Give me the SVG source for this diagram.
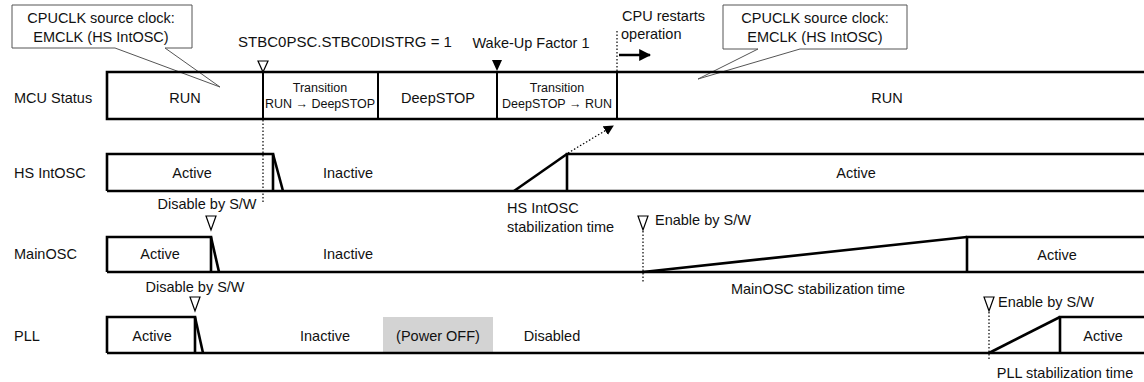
<svg xmlns="http://www.w3.org/2000/svg" width="1144" height="382" viewBox="0 0 1144 382">
<style>
text{font-family:"Liberation Sans",Arial,sans-serif;font-size:14.5px;fill:#111}
.s{font-size:12.5px}
.m{text-anchor:middle}
.w{fill:none;stroke:#000;stroke-width:2.6}
.t{fill:none;stroke:#000;stroke-width:2}
.d{fill:none;stroke:#000;stroke-width:1.2;stroke-dasharray:1.5,2}
.c{fill:#fff;stroke:#555;stroke-width:1}
.ho{fill:#fff;stroke:#000;stroke-width:1.2}
</style>
<defs>
<marker id="ah" viewBox="0 0 10 10" refX="9" refY="5" markerWidth="10" markerHeight="10" markerUnits="userSpaceOnUse" orient="auto"><path d="M0,0 L10,5 L0,10 z" fill="#000"/></marker>
<marker id="ah2" viewBox="0 0 10 10" refX="9" refY="5" markerWidth="12" markerHeight="12" markerUnits="userSpaceOnUse" orient="auto"><path d="M0,0 L10,5 L0,10 z" fill="#000"/></marker>
</defs>
<rect width="1144" height="382" fill="#fff"/>

<g id="labels">
<text x="14" y="103">MCU Status</text>
<text x="14" y="178">HS IntOSC</text>
<text x="14" y="259">MainOSC</text>
<text x="14" y="341">PLL</text>
</g>

<g id="callout-left">
<path class="c" d="M12,5 H192 V48 H165 L220,87 L115,48 H12 Z"/>
<text class="m" x="101" y="23">CPUCLK source clock:</text>
<text class="m" x="101" y="42">EMCLK (HS IntOSC)</text>
</g>

<g id="callout-right">
<path class="c" d="M723,5 H907 V49 H800 L698,79 L758,49 H723 Z"/>
<text class="m" x="815" y="23">CPUCLK source clock:</text>
<text class="m" x="815" y="42">EMCLK (HS IntOSC)</text>
</g>

<g id="mcu-status">
<path class="w" d="M1146,72 H107 V119 H1146"/>
<line class="t" x1="263" y1="72" x2="263" y2="119"/>
<line class="t" x1="378" y1="72" x2="378" y2="119"/>
<line class="t" x1="497" y1="72" x2="497" y2="119"/>
<line class="t" x1="617" y1="72" x2="617" y2="119"/>
<text class="m" x="185" y="103">RUN</text>
<text class="m s" x="320" y="92">Transition</text>
<text class="m s" x="320" y="108">RUN → DeepSTOP</text>
<text class="m" x="438" y="103">DeepSTOP</text>
<text class="m s" x="557" y="92">Transition</text>
<text class="m s" x="557" y="108">DeepSTOP → RUN</text>
<text class="m" x="887" y="103">RUN</text>
</g>

<g id="events">
<text class="m" x="345" y="47" style="font-size:15px">STBC0PSC.STBC0DISTRG = 1</text>
<polygon class="ho" points="258,61 268,61 263,72"/>
<text class="m" x="531" y="48">Wake-Up Factor 1</text>
<polygon points="492,60 502,60 497,71" fill="#000"/>
<text x="622" y="21">CPU restarts</text>
<text x="621" y="39">operation</text>
</g>

<g id="hs-intosc">
<path class="w" d="M107,191 V154 H273 V191"/>
<line class="w" x1="273" y1="154" x2="283" y2="191"/>
<line class="w" x1="107" y1="191" x2="1146" y2="191"/>
<line class="w" x1="514" y1="191" x2="567" y2="154"/>
<path class="w" d="M567,191 V154 H1146"/>
<text class="m" x="192" y="178">Active</text>
<text class="m" x="348" y="178">Inactive</text>
<text class="m" x="856" y="178">Active</text>
<text x="507" y="213">HS IntOSC</text>
<text x="507" y="232">stabilization time</text>
<text class="m" x="207" y="209">Disable by S/W</text>
</g>

<g id="mainosc">
<polygon class="ho" points="206,216 216,216 211,230"/>
<path class="w" d="M107,272 V237 H211 V272"/>
<line class="w" x1="211" y1="237" x2="219" y2="272"/>
<line class="w" x1="107" y1="272" x2="1146" y2="272"/>
<line class="w" x1="643" y1="272" x2="967" y2="237"/>
<path class="w" d="M967,272 V237 H1146"/>
<text class="m" x="160" y="259">Active</text>
<text class="m" x="348" y="259">Inactive</text>
<text class="m" x="1057" y="260">Active</text>
<polygon class="ho" points="638,216 648,216 643,230"/>
<text x="655" y="225">Enable by S/W</text>
<text class="m" x="818" y="294">MainOSC stabilization time</text>
<text class="m" x="195" y="292">Disable by S/W</text>
</g>

<g id="pll">
<rect x="383" y="317" width="110" height="36" fill="#d3d3d3"/>
<polygon class="ho" points="190,297 200,297 195,311"/>
<path class="w" d="M107,353 V317 H195 V353"/>
<line class="w" x1="195" y1="317" x2="203" y2="353"/>
<line class="w" x1="107" y1="353" x2="1146" y2="353"/>
<line class="w" x1="989" y1="353" x2="1060" y2="317"/>
<path class="w" d="M1060,353 V317 H1146"/>
<text class="m" x="152" y="341">Active</text>
<text class="m" x="325" y="341">Inactive</text>
<text class="m" x="438" y="341">(Power OFF)</text>
<text class="m" x="552" y="341">Disabled</text>
<text class="m" x="1103" y="341">Active</text>
<polygon class="ho" points="984,297 994,297 989,311"/>
<text x="998" y="307">Enable by S/W</text>
<text class="m" x="1065" y="378">PLL stabilization time</text>
</g>

<g id="connectors">
<line class="d" x1="263" y1="120" x2="263" y2="203"/>
<line class="d" x1="617" y1="31" x2="617" y2="71"/>
<line x1="619" y1="55" x2="650" y2="55" stroke="#000" stroke-width="2.5" marker-end="url(#ah2)"/>
<line class="d" x1="568" y1="153" x2="613" y2="126" marker-end="url(#ah)"/>
<line class="d" x1="643" y1="231" x2="643" y2="283"/>
<line class="d" x1="989" y1="312" x2="989" y2="361"/>
</g>
</svg>
